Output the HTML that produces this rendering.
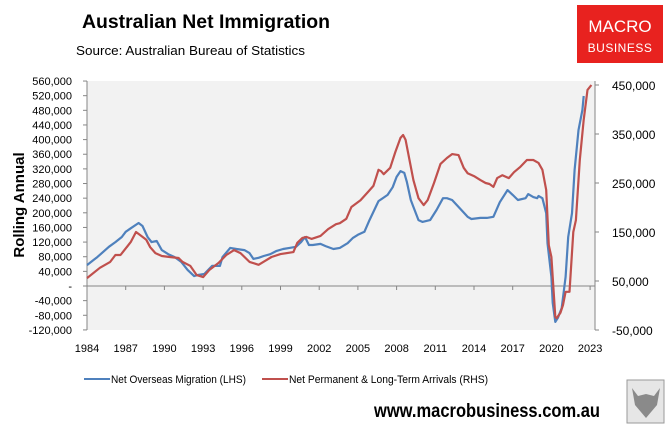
<!DOCTYPE html>
<html><head><meta charset="utf-8">
<style>
body{margin:0;width:669px;height:431px;background:#fff;overflow:hidden;font-family:"Liberation Sans",sans-serif;}
svg{display:block}
</style></head>
<body>
<svg id="chart" width="669" height="431">
  <text x="82" y="28" font-size="19" font-weight="bold" fill="#000" textLength="248" lengthAdjust="spacingAndGlyphs">Australian Net Immigration</text>
  <text x="76" y="55" font-size="13" fill="#000" textLength="229" lengthAdjust="spacingAndGlyphs">Source: Australian Bureau of Statistics</text>
  <g>
    <rect x="577" y="5" width="86" height="58" fill="#e8221f"/>
    <text x="620" y="32" font-size="17" fill="#fff" text-anchor="middle">MACRO</text>
    <text x="620" y="52" font-size="12" fill="#fff" text-anchor="middle" letter-spacing="0.5">BUSINESS</text>
  </g>
  <rect x="87" y="81" width="508" height="249" fill="#f2f2f2"/>
  <g id="axes"></g>
  <g id="series"></g>
  <text transform="translate(24,205) rotate(-90)" font-size="15" font-weight="bold" text-anchor="middle">Rolling Annual</text>
  <g>
    <g>
      <line x1="84" y1="379" x2="110" y2="379" stroke="#4f81bd" stroke-width="2"/>
      <text x="111" y="383" font-size="11" textLength="135" lengthAdjust="spacingAndGlyphs">Net Overseas Migration (LHS)</text>
    </g>
    <g>
      <line x1="262" y1="379" x2="288" y2="379" stroke="#c0504d" stroke-width="2"/>
      <text x="289" y="383" font-size="11" textLength="199" lengthAdjust="spacingAndGlyphs">Net Permanent &amp; Long-Term Arrivals (RHS)</text>
    </g>
  </g>
  <text x="374" y="417" font-size="19" font-weight="bold" textLength="226" lengthAdjust="spacingAndGlyphs">www.macrobusiness.com.au</text>
  <g>
    <rect x="627" y="380" width="37" height="43" fill="#e6e6e6" stroke="#999"/>
    <path d="M632 388 L638 396 L646 394 L654 396 L660 388 L657 405 L646 418 L635 405 Z" fill="#8a8a8a"/>
  </g>
</svg>
<script>
const leftTicks=[560,520,480,440,400,360,320,280,240,200,160,120,80,40,0,-40,-80,-120];
const rightTicks=[450,350,250,150,50,-50];
const yearTicks=[1984,1987,1990,1993,1996,1999,2002,2005,2008,2011,2014,2017,2020,2023];
const nomYears=[1984.0,1984.5,1984.8,1985.7,1986.2,1986.7,1987.0,1987.4,1988.0,1988.3,1988.7,1989.0,1989.4,1989.8,1990.3,1990.8,1991.3,1991.8,1992.3,1992.6,1993.1,1993.7,1994.3,1994.5,1995.1,1995.6,1996.2,1996.6,1996.9,1997.3,1997.7,1998.2,1998.7,1999.2,1999.7,2000.2,2000.6,2000.9,2001.2,2001.5,2002.1,2002.5,2003.1,2003.6,2004.2,2004.6,2005.0,2005.5,2005.9,2006.6,2007.3,2007.7,2008.0,2008.3,2008.6,2008.8,2009.1,2009.3,2009.7,2010.0,2010.6,2011.1,2011.6,2011.9,2012.3,2012.8,2013.5,2013.8,2014.5,2015.0,2015.5,2016.0,2016.6,2017.0,2017.4,2018.0,2018.2,2018.6,2018.9,2019.0,2019.3,2019.6,2019.7,2020.0,2020.1,2020.3,2020.5,2020.8,2021.1,2021.3,2021.6,2021.8,2022.1,2022.4,2022.5];
const nomValues=[57,71,79,107,120,134,148,158,172,164,134,120,123,98,87,79,66,44,27,30,33,55,55,79,104,101,98,90,74,77,82,87,96,101,104,107,120,134,112,112,115,109,101,104,117,131,140,148,180,232,249,270,298,314,309,284,235,216,180,175,180,208,240,240,235,216,189,183,186,186,189,229,262,249,235,240,251,243,240,246,240,199,117,25,-46,-98,-87,-60,25,134,199,317,426,481,519];
const pltYears=[1984.0,1985.0,1985.8,1986.2,1986.6,1986.9,1987.4,1987.8,1988.1,1988.6,1988.9,1989.3,1989.8,1990.4,1991.1,1991.4,1992.0,1992.5,1993.0,1993.5,1994.2,1994.8,1995.4,1995.9,1996.6,1997.3,1997.8,1998.3,1999.0,2000.0,2000.3,2000.7,2001.0,2001.4,2002.1,2002.7,2003.3,2003.6,2004.1,2004.5,2005.2,2005.8,2006.2,2006.6,2006.8,2007.0,2007.5,2007.9,2008.3,2008.5,2008.7,2009.0,2009.3,2009.7,2010.1,2010.4,2010.9,2011.4,2011.9,2012.3,2012.8,2013.2,2013.5,2014.0,2014.5,2014.9,2015.2,2015.5,2015.8,2016.2,2016.7,2017.1,2017.6,2018.1,2018.6,2019.0,2019.3,2019.6,2019.8,2020.0,2020.3,2020.4,2020.7,2020.9,2021.1,2021.4,2021.7,2021.9,2022.2,2022.5,2022.8,2023.1];
const pltValues=[56,77,89,103,103,113,130,150,144,134,119,107,101,99,97,89,81,62,58,73,87,103,113,107,89,83,91,99,105,109,128,138,140,136,142,156,166,168,177,201,215,232,244,277,274,268,281,313,342,348,338,297,256,219,205,215,250,289,301,309,307,281,270,264,256,250,248,242,260,266,260,272,283,297,297,291,277,236,123,99,-23,-26,-15,1,28,28,150,174,297,379,440,450];

const X=y=>87+(y-1984)*12.9;
const YL=v=>286-v*0.366;
const YR=v=>330-(v+50)*0.49;
const NS='http://www.w3.org/2000/svg';
function mk(tag,attrs,parent,txt){const e=document.createElementNS(NS,tag);for(const k in attrs)e.setAttribute(k,attrs[k]);if(txt!==undefined)e.textContent=txt;parent.appendChild(e);return e;}
const axes=document.getElementById('axes');
const fmt=v=>v===0?'-':(v<0?'-':'')+Math.abs(v*1000).toLocaleString('en-US');
let la=mk('line',{x1:87,y1:81,x2:87,y2:330,stroke:'#868686'},axes);


leftTicks.forEach(v=>{
  mk('line',{x1:83,y1:YL(v),x2:87,y2:YL(v),stroke:'#868686'},axes);
  const t=mk('text',{x:72,y:YL(v)+4,'font-size':11,'text-anchor':'end'},axes,fmt(v));
  
  
});
let ra=mk('line',{x1:595,y1:81,x2:595,y2:330,stroke:'#868686'},axes);


rightTicks.forEach(v=>{
  mk('line',{x1:595,y1:YR(v),x2:599,y2:YR(v),stroke:'#868686'},axes);
  const t=mk('text',{x:612,y:YR(v)+5,'font-size':12},axes,fmt(v));
  
  
});
let xa=mk('line',{x1:87,y1:YL(0),x2:595,y2:YL(0),stroke:'#868686'},axes);


yearTicks.forEach(y=>{
  mk('line',{x1:X(y),y1:YL(0),x2:X(y),y2:YL(0)+4,stroke:'#868686'},axes);
  const t=mk('text',{x:X(y),y:352,'font-size':11,'text-anchor':'middle'},axes,String(y));
  
  
});
const ser=document.getElementById('series');
const nomPts=nomYears.map((y,i)=>X(y).toFixed(1)+','+YL(nomValues[i]).toFixed(1)).join(' ');
const pltPts=pltYears.map((y,i)=>X(y).toFixed(1)+','+YR(pltValues[i]).toFixed(1)).join(' ');
const l1=mk('polyline',{points:nomPts,fill:'none',stroke:'#4f81bd','stroke-width':2.2,'stroke-linejoin':'round'},ser);


const l2=mk('polyline',{points:pltPts,fill:'none',stroke:'#c0504d','stroke-width':2.2,'stroke-linejoin':'round'},ser);


</script>
</body></html>
